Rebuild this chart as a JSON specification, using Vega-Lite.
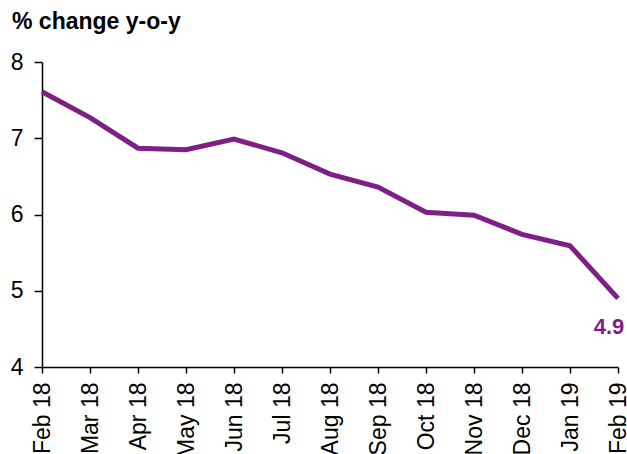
{
  "$schema": "https://vega.github.io/schema/vega-lite/v6.json",
  "width": 576,
  "height": 305,
  "autosize": "none",
  "padding": {"left": 42, "top": 62, "right": 9, "bottom": 87},
  "background": "white",
  "config": {
    "view": {"stroke": null},
    "font": "Liberation Sans"
  },
  "title": {
    "text": "% change y-o-y",
    "anchor": "start",
    "frame": "group",
    "dx": -30,
    "offset": 17,
    "fontSize": 23,
    "fontWeight": "bold",
    "font": "Liberation Sans",
    "color": "black"
  },
  "data": {
    "values": [
      {"month": "Feb 18", "value": 7.61},
      {"month": "Mar 18", "value": 7.27},
      {"month": "Apr 18", "value": 6.87},
      {"month": "May 18", "value": 6.85},
      {"month": "Jun 18", "value": 6.99},
      {"month": "Jul 18", "value": 6.81},
      {"month": "Aug 18", "value": 6.53},
      {"month": "Sep 18", "value": 6.36},
      {"month": "Oct 18", "value": 6.03},
      {"month": "Nov 18", "value": 5.99},
      {"month": "Dec 18", "value": 5.74},
      {"month": "Jan 19", "value": 5.59},
      {"month": "Feb 19", "value": 4.9}
    ]
  },
  "encoding": {
    "x": {
      "field": "month",
      "type": "ordinal",
      "sort": null,
      "scale": {"type": "point", "padding": 0},
      "axis": {
        "title": null,
        "labelAngle": -90,
        "labelAlign": "right",
        "labelBaseline": "middle",
        "labelFontSize": 23,
        "labelColor": "black",
        "labelPadding": 9,
        "tickSize": 6,
        "tickColor": "black",
        "domainColor": "black",
        "domainWidth": 1.5,
        "tickWidth": 1.5
      }
    },
    "y": {
      "field": "value",
      "type": "quantitative",
      "scale": {"domain": [4, 8], "nice": false, "zero": false},
      "axis": {
        "title": null,
        "values": [4, 5, 6, 7, 8],
        "grid": false,
        "labelFontSize": 23,
        "labelColor": "black",
        "labelPadding": 11,
        "tickSize": 8,
        "tickColor": "black",
        "domainColor": "black",
        "domainWidth": 1.5,
        "tickWidth": 1.5
      }
    }
  },
  "layer": [
    {
      "mark": {"type": "line", "color": "#7E1F86", "strokeWidth": 5, "strokeJoin": "miter"}
    },
    {
      "transform": [{"filter": "datum.month === 'Feb 19'"}],
      "mark": {"type": "text", "color": "#7E1F86", "fontSize": 22, "fontWeight": "bold", "dy": 29, "dx": -9, "align": "center"},
      "encoding": {"text": {"field": "value", "type": "quantitative", "format": ".1f"}}
    }
  ]
}
